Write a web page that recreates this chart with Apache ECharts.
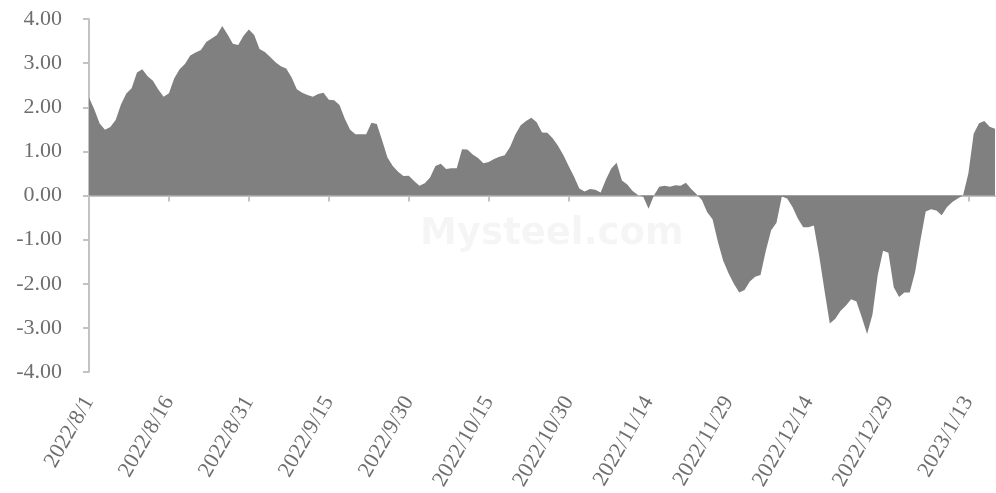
<!DOCTYPE html>
<html>
<head>
<meta charset="utf-8">
<script src="https://cdn.jsdelivr.net/npm/echarts@6/dist/echarts.min.js"></script>
<style>
html,body{margin:0;padding:0;background:#fff;}
#chart{width:996px;height:493px;}
</style>
</head>
<body>
<div id="chart"></div>
<script>
// Category range: daily from 2022/8/1, 171 days
var startDate = [2022, 8, 1];
var dayCount = 171;
var values = [
 2.22, 1.95, 1.63, 1.49, 1.55, 1.71, 2.06, 2.31, 2.43, 2.79,
 2.86, 2.70, 2.60, 2.40, 2.24, 2.32, 2.66, 2.86, 2.98, 3.17,
 3.24, 3.30, 3.48, 3.56, 3.64, 3.84, 3.65, 3.44, 3.41, 3.62,
 3.76, 3.64, 3.32, 3.25, 3.14, 3.02, 2.93, 2.88, 2.68, 2.41,
 2.33, 2.28, 2.24, 2.30, 2.33, 2.17, 2.16, 2.05, 1.74, 1.49,
 1.39, 1.39, 1.39, 1.65, 1.62, 1.25, 0.86, 0.67, 0.54, 0.44,
 0.45, 0.33, 0.22, 0.28, 0.41, 0.67, 0.72, 0.60, 0.62, 0.62,
 1.05, 1.04, 0.93, 0.85, 0.73, 0.76, 0.83, 0.88, 0.91, 1.10,
 1.38, 1.59, 1.69, 1.76, 1.66, 1.43, 1.42, 1.30, 1.13, 0.92,
 0.67, 0.43, 0.16, 0.09, 0.15, 0.13, 0.07, 0.36, 0.61, 0.74,
 0.34, 0.25, 0.10, 0.01, -0.03, -0.30, 0.00, 0.20, 0.22, 0.20,
 0.23, 0.22, 0.29, 0.15, 0.03, -0.10, -0.38, -0.54, -1.05, -1.48,
 -1.76, -2.00, -2.20, -2.14, -1.95, -1.84, -1.80, -1.25, -0.79, -0.62,
 -0.02, -0.07, -0.26, -0.52, -0.72, -0.72, -0.68, -1.36, -2.15, -2.90,
 -2.80, -2.62, -2.50, -2.35, -2.40, -2.76, -3.14, -2.70, -1.80, -1.25,
 -1.30, -2.08, -2.30, -2.20, -2.20, -1.74, -1.02, -0.36, -0.31, -0.34,
 -0.45, -0.26, -0.15, -0.07, 0.00, 0.50, 1.40, 1.64, 1.69, 1.56,
 1.51
];
var yTicks = [-4, -3, -2, -1, 0, 1, 2, 3, 4];

var categories = [];
(function(){
  var t = Date.UTC(startDate[0], startDate[1]-1, startDate[2]);
  for (var i = 0; i < dayCount; i++) {
    var d = new Date(t + i*86400000);
    categories.push(d.getUTCFullYear() + '/' + (d.getUTCMonth()+1) + '/' + d.getUTCDate());
  }
})();

var chart = echarts.init(document.getElementById('chart'), null, {renderer:'canvas'});
var labelFont = 'Liberation Serif, Times New Roman, serif';
var axisCol = '#c3c3c3';
chart.setOption({
  animation: false,
  backgroundColor: '#ffffff',
  grid: {left: 89, right: 1, top: 19, bottom: 121, containLabel: false},
  graphic: [{
    type: 'text', left: 420, top: 216, z: -1,
    style: {text: 'Mysteel.com', fontSize: 37, fontWeight: 'bold', fontFamily: 'DejaVu Sans, sans-serif', fill: 'rgba(0,0,0,0.04)'}
  }],
  xAxis: [{
    type: 'category', data: categories, boundaryGap: false,
    axisLine: {show: true, onZero: true, lineStyle: {color: axisCol, width: 2}},
    axisTick: {show: true, interval: 14, length: 6, lineStyle: {color: axisCol, width: 2}},
    axisLabel: {show: false},
    splitLine: {show: false}
  }, {
    type: 'category', data: categories, boundaryGap: false, position: 'bottom',
    axisLine: {show: false, onZero: false},
    axisTick: {show: false},
    axisLabel: {show: true, interval: 14, rotate: 60, margin: 26, fontSize: 22, fontFamily: labelFont, color: '#6e6e6e'},
    splitLine: {show: false}
  }],
  yAxis: {
    type: 'value', min: yTicks[0], max: yTicks[yTicks.length-1], interval: 1,
    axisLine: {show: true, lineStyle: {color: axisCol, width: 2}},
    axisTick: {show: true, length: 6, lineStyle: {color: axisCol, width: 2}},
    axisLabel: {margin: 27, fontSize: 22, fontFamily: labelFont, color: '#6e6e6e', formatter: function(v){return v.toFixed(2);}},
    splitLine: {show: false}
  },
  series: [{
    type: 'line', data: values, xAxisIndex: 0,
    symbol: 'none', smooth: false,
    lineStyle: {width: 0},
    areaStyle: {color: '#808080', opacity: 1, origin: 0},
    z: 1
  }]
});
</script>
</body>
</html>
